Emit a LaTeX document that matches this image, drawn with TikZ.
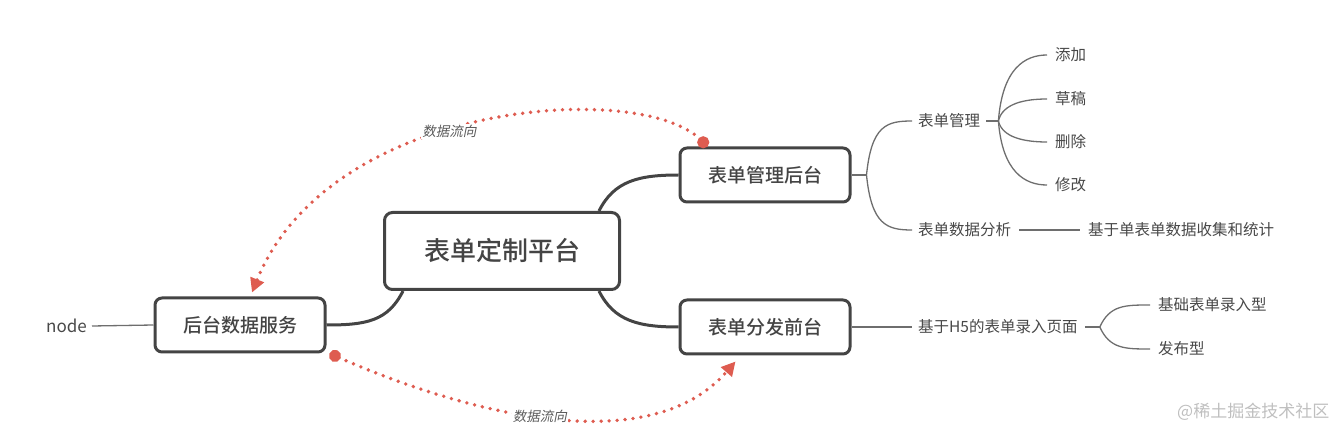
\documentclass[tikz,border=0pt]{standalone}
\usepackage{fontspec}
\setmainfont{Noto Sans CJK SC}
\newfontfamily\boxfont{Noto Sans CJK SC Medium}
\newfontfamily\flowfont[FakeSlant=0.2]{Noto Sans CJK SC}
\definecolor{boxline}{RGB}{68, 68, 68}
\definecolor{branchline}{RGB}{110, 110, 110}
\definecolor{flowred}{RGB}{222, 92, 80}
\definecolor{leaftext}{RGB}{72, 72, 72}
\usetikzlibrary{arrows.meta, calc, positioning}
\tikzset{
    rootbox/.style={draw=boxline, line width=3pt, rounded corners=8pt,
        minimum width=235pt, minimum height=77pt,
        font=\boxfont\fontsize{26}{28}\selectfont, text=boxline},
    topicbox/.style={draw=boxline, line width=3pt, rounded corners=7pt,
        minimum width=170pt, minimum height=54pt,
        font=\boxfont\fontsize{19}{21}\selectfont, text=boxline},
    leaf/.style={inner sep=0pt, anchor=west, font=\fontsize{15.5}{17}\selectfont,
        text=leaftext},
    trunk/.style={draw=boxline, line width=3pt},
    twig/.style={draw=branchline, line width=1.3pt},
    flow/.style={draw=flowred, line width=3.8pt, line cap=round,
        dash pattern=on 0pt off 8pt,
        {Circle[length=12pt]}-{Triangle[length=14pt, width=14pt]}},
    flowlabel/.style={fill=white, inner sep=1pt, text=leaftext!90,
        font=\flowfont\fontsize{13.5}{15}\selectfont},
}
\begin{document}
\begin{tikzpicture}[x=1pt, y=-1pt]
    \useasboundingbox (0, 0) rectangle (1342, 430);
    % boxes
    \node[rootbox] (root) at (502, 251) {表单定制平台};
    \node[topicbox] (admin) at (765, 175) {表单管理后台};
    \node[topicbox] (front) at (765, 327) {表单分发前台};
    \node[topicbox] (service) at (240, 325) {后台数据服务};
    % trunks
    \draw[trunk] ($(root.north east)+(-22, 0)$) .. controls ++(15, -30)
        and ++(-40, 0) .. (admin.west);
    \draw[trunk] ($(root.south east)+(-22, 0)$) .. controls ++(15, 30)
        and ++(-40, 0) .. (front.west);
    \draw[trunk] ($(root.south west)+(20, 0)$) .. controls ++(-15, 30)
        and ++(40, 0) .. (service.east);
    % left side
    \node[leaf, anchor=east, font=\fontsize{17}{19}\selectfont] (nodejs) at (87, 326) {node};
    \draw[twig] (nodejs.east) ++(5, 0) -- (service.west);
    % admin branches
    \node[leaf] (manage) at (918, 121) {表单管理};
    \node[leaf] (analyse) at (918, 230) {表单数据分析};
    \node[leaf] (stats) at (1088, 230) {基于单表单数据收集和统计};
    \coordinate (adminhub) at ($(admin.east)+(15, 0)$);
    \draw[twig] (admin.east) -- (adminhub);
    \draw[twig] (adminhub) .. controls ++(5, -50) and ++(-25, 0) .. ($(manage.west)+(-6, 0)$);
    \draw[twig] (adminhub) .. controls ++(5, 50) and ++(-25, 0) .. ($(analyse.west)+(-6, 0)$);
    \draw[twig] ($(analyse.east)+(8, 0)$) -- ($(stats.west)+(-8, 0)$);
    \coordinate (managehub) at ($(manage.east)+(18, 0)$);
    \draw[twig] ($(manage.east)+(6, 0)$) -- (managehub);
    \foreach \name/\txt/\ypos in {add/添加/55, draft/草稿/99, remove/删除/142, edit/修改/185} {
        \node[leaf] (\name) at (1055, \ypos) {\txt};
        \draw[twig] (managehub) .. controls ($(managehub)!0.8!(managehub |- \name.west)+(4, 0)$)
            and ($(\name.west)+(-30, 0)$) .. ($(\name.west)+(-8, 0)$);
    }
    % front branches
    \node[leaf] (hfive) at (918, 327) {基于H5的表单录入页面};
    \draw[twig] (front.east) -- ($(hfive.west)+(-6, 0)$);
    \coordinate (hfivehub) at ($(hfive.east)+(22, 0)$);
    \draw[twig] ($(hfive.east)+(7, 0)$) -- (hfivehub);
    \node[leaf] (basic) at (1158, 305) {基础表单录入型};
    \node[leaf] (publish) at (1158, 349) {发布型};
    \draw[twig] (hfivehub) .. controls ++(10, -22) and ++(-25, 0) .. ($(basic.west)+(-8, 0)$);
    \draw[twig] (hfivehub) .. controls ++(10, 22) and ++(-25, 0) .. ($(publish.west)+(-8, 0)$);
    % data flow
    \coordinate (flowtopA) at ($(admin.north west)+(29, 0)$);
    \coordinate (flowtopB) at ($(service.north)+(12, -4)$);
    \draw[flow] (flowtopA) .. controls (640, 80) and (330, 100) .. (flowtopB)
        node[flowlabel, pos=0.56] (labeltop) {数据流向};
    \coordinate (flowbotA) at ($(service.south east)+(3, 0)$);
    \coordinate (flowbotB) at ($(front.south west)+(57, 6)$);
    \draw[flow] (flowbotA) .. controls (470, 415) and (650, 460) .. (flowbotB)
        node[flowlabel, pos=0.47] (labelbot) {数据流向};
    % watermark
    \node[leaf, text=black!25, font=\fontsize{17}{19}\selectfont] (mark) at (1177, 412) {@稀土掘金技术社区};
\end{tikzpicture}
\end{document}
